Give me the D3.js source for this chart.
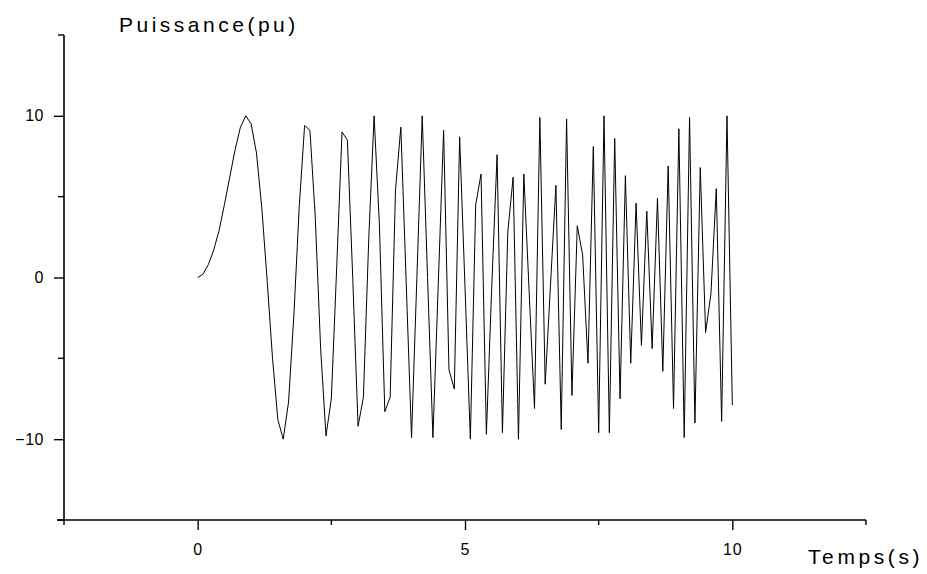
<!DOCTYPE html>
<html>
<head>
<meta charset="utf-8">
<script src="https://cdn.jsdelivr.net/npm/d3@7"></script>
<style>
  html, body { margin: 0; padding: 0; background: #fff; }
  svg { display: block; }
  text { font-family: "Liberation Sans", Arial, sans-serif; fill: #000; }
</style>
</head>
<body>
<svg id="chart" width="927" height="574"></svg>
<script>
// ---- data ----
const times = [
  0.0,0.1,0.2,0.3,0.4,0.5,0.6,0.7,0.8,0.9,
  1.0,1.1,1.2,1.3,1.4,1.5,1.6,1.7,1.8,1.9,
  2.0,2.1,2.2,2.3,2.4,2.5,2.6,2.7,2.8,2.9,
  3.0,3.1,3.2,3.3,3.4,3.5,3.6,3.7,3.8,3.9,
  4.0,4.1,4.2,4.3,4.4,4.5,4.6,4.7,4.8,4.9,
  5.0,5.1,5.2,5.3,5.4,5.5,5.6,5.7,5.8,5.9,
  6.0,6.1,6.2,6.3,6.4,6.5,6.6,6.7,6.8,6.9,
  7.0,7.1,7.2,7.3,7.4,7.5,7.6,7.7,7.8,7.9,
  8.0,8.1,8.2,8.3,8.4,8.5,8.6,8.7,8.8,8.9,
  9.0,9.1,9.2,9.3,9.4,9.5,9.6,9.7,9.8,9.9,
  10.0
];
const puissance = [
  0.0, 0.2, 0.8, 1.7, 2.9, 4.5, 6.2, 7.9, 9.3, 10.0,
  9.5, 7.7, 4.3, -0.2, -5.0, -8.8, -10.0, -7.7, -2.3, 4.4,
  9.4, 9.1, 3.7, -4.4, -9.8, -7.5, 0.6, 9.0, 8.5, 0.0,
  -9.2, -7.4, 2.4, 10.0, 3.2, -8.3, -7.4, 5.4, 9.3, -0.3,
  -9.9, 0.0, 10.0, 0.0, -9.9, -0.4, 9.1, -5.7, -6.9, 8.7,
  -0.6, -10.0, 4.5, 6.4, -9.7, -0.6, 7.6, -9.6, 2.8, 6.2,
  -10.0, 6.4, -0.9, -8.1, 9.9, -6.6, -0.4, 5.7, -9.4, 9.8,
  -7.3, 3.2, 1.4, -5.3, 8.1, -9.6, 10.0, -9.6, 8.6, -7.5,
  6.3, -5.3, 4.6, -4.2, 4.1, -4.4, 4.9, -5.8, 6.9, -8.1,
  9.2, -9.9, 9.9, -9.0, 6.8, -3.4, -1.0, 5.5, -8.9, 10.0,
  -7.9
];
const xDomain = [-2.5, 12.5];
const yDomain = [-15, 15];
const xMajorTicks = [0, 5, 10];
const xMinorTicks = [-2.5, 2.5, 7.5, 12.5];
const yMajorTicks = [-10, 0, 10];
const yMinorTicks = [-15, -5, 5, 15];
const xTitle = "Temps(s)";
const yTitle = "Puissance(pu)";

// ---- drawing ----
const svg = d3.select("#chart");
const mLeft = 64, mRight = 866, mTop = 35, mBottom = 520;

const x = d3.scaleLinear().domain(xDomain).range([mLeft, mRight]);
const y = d3.scaleLinear().domain(yDomain).range([mBottom, mTop]);

// curve
const line = d3.line().x((d, i) => x(times[i])).y(d => y(d));
svg.append("path")
  .datum(puissance)
  .attr("d", line)
  .attr("fill", "none")
  .attr("stroke", "#000")
  .attr("stroke-width", 1)
  .attr("stroke-linejoin", "miter");

// x axis
const gx = svg.append("g").attr("transform", `translate(0,${mBottom})`);
gx.call(d3.axisBottom(x).tickValues(xMajorTicks).tickSize(10).tickSizeOuter(0).tickPadding(14).tickFormat(d3.format("d")));
gx.select(".domain").remove();
gx.append("line").attr("x1", mLeft - 7).attr("x2", mRight).attr("y1", 0).attr("y2", 0)
  .attr("stroke", "#000").attr("stroke-width", 1.6);
gx.selectAll(".minor").data(xMinorTicks).enter().append("line")
  .attr("class", "minor")
  .attr("x1", d => x(d)).attr("x2", d => x(d))
  .attr("y1", 0).attr("y2", 5)
  .attr("stroke", "#000").attr("stroke-width", 1.4);
gx.selectAll(".tick line").attr("stroke", "#000").attr("stroke-width", 1.4);
gx.selectAll(".tick text")
  .attr("font-size", 16).style("letter-spacing", "1px")
  .attr("font-family", "Liberation Sans, Arial, sans-serif");

// y axis
const gy = svg.append("g").attr("transform", `translate(${mLeft},0)`);
gy.call(d3.axisLeft(y).tickValues(yMajorTicks).tickSize(10).tickSizeOuter(0).tickPadding(10).tickFormat(d3.format("d")));
gy.select(".domain").remove();
gy.append("line").attr("x1", 0).attr("x2", 0).attr("y1", mTop).attr("y2", mBottom)
  .attr("stroke", "#000").attr("stroke-width", 1.6);
gy.selectAll(".minor").data(yMinorTicks).enter().append("line")
  .attr("class", "minor")
  .attr("x1", 0).attr("x2", -6)
  .attr("y1", d => y(d)).attr("y2", d => y(d))
  .attr("stroke", "#000").attr("stroke-width", 1.4);
gy.selectAll(".tick line").attr("stroke", "#000").attr("stroke-width", 1.4);
gy.selectAll(".tick text")
  .attr("font-size", 16).style("letter-spacing", "0.5px")
  .attr("font-family", "Liberation Sans, Arial, sans-serif");

// titles
svg.append("text")
  .attr("x", 119).attr("y", 32)
  .attr("font-size", 21)
  .style("letter-spacing", "3.5px")
  .text(yTitle);
svg.append("text")
  .attr("x", 808).attr("y", 564)
  .attr("font-size", 21)
  .style("letter-spacing", "3.6px")
  .text(xTitle);
</script>
</body>
</html>
